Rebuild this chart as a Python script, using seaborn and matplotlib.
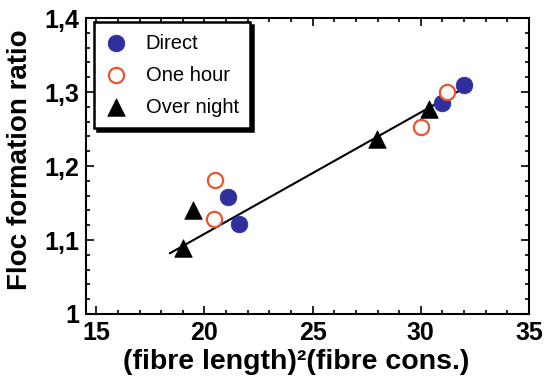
"""Floc formation ratio vs (fibre length)^2 (fibre cons.)."""

import numpy as np
import pandas as pd
import matplotlib

matplotlib.use("Agg")
import matplotlib.pyplot as plt
from matplotlib.ticker import MultipleLocator, FuncFormatter
import seaborn as sns

# data
direct_x = [21.07, 21.58, 30.98, 32.0]
direct_y = [1.158, 1.122, 1.285, 1.309]
hour_x = [20.5, 20.42, 30.0, 31.2]
hour_y = [1.181, 1.129, 1.253, 1.300]
night_x = [19.45, 19.0, 27.98, 30.4]
night_y = [1.140, 1.089, 1.237, 1.277]
fit_x = [18.4, 32.1]
fit_y = [1.082, 1.307]

sns.set_style("ticks")
plt.rcParams["font.family"] = ["Liberation Sans", "DejaVu Sans"]
plt.rcParams["text.color"] = "black"
plt.rcParams["axes.labelcolor"] = "black"
plt.rcParams["xtick.color"] = "black"
plt.rcParams["ytick.color"] = "black"

fig = plt.figure(figsize=(5.44, 3.92), dpi=100)
ax = fig.add_axes([0.159, 0.199, 0.8134, 0.755])

fit = pd.DataFrame({"x": fit_x, "y": fit_y})
sns.lineplot(data=fit, x="x", y="y", color="black", linewidth=1.5, ax=ax,
             legend=False)

sns.scatterplot(x=direct_x, y=direct_y, marker="o", s=145, color="#2f2f9e",
                edgecolor="#2f2f9e", linewidth=0.5, label="Direct", ax=ax, zorder=3)
sns.scatterplot(x=hour_x, y=hour_y, marker="o", s=120, facecolor="white",
                edgecolor="#e8552e", linewidth=1.6, label="One hour", ax=ax, zorder=3)
sns.scatterplot(x=night_x, y=night_y, marker="^", s=160, color="black",
                edgecolor="black", linewidth=0.5, label="Over night", ax=ax, zorder=4)

ax.set_xlim(14.55, 35)
ax.set_ylim(1.0, 1.4)
ax.xaxis.set_major_locator(MultipleLocator(5))
ax.xaxis.set_minor_locator(MultipleLocator(1))
ax.yaxis.set_major_locator(MultipleLocator(0.1))
ax.yaxis.set_minor_locator(MultipleLocator(0.02))
ax.yaxis.set_major_formatter(FuncFormatter(lambda v, p: f"{v:.1f}".rstrip("0").rstrip(".").replace(".", ",")))

ax.tick_params(which="both", direction="in", top=True, right=True, width=1.2)
ax.tick_params(which="major", length=6, labelsize=18, pad=5)
ax.tick_params(which="minor", length=3)
for lab in ax.get_xticklabels() + ax.get_yticklabels():
    lab.set_fontweight("bold")
for sp in ax.spines.values():
    sp.set_linewidth(1.5)
    sp.set_color("black")

ax.set_xlabel("(fibre length)²(fibre cons.)", fontsize=20.5, fontweight="bold")
ax.set_ylabel("Floc formation ratio", fontsize=20, fontweight="bold")
ax.xaxis.set_label_coords(0.475, -0.118)
ax.yaxis.set_label_coords(-0.12, 0.52)

leg = ax.legend(loc="upper left", bbox_to_anchor=(0.018, 0.985), fontsize=14.5,
                frameon=True, fancybox=False, edgecolor="black", framealpha=1,
                borderpad=0.55, labelspacing=0.65, handletextpad=1.0,
                handlelength=1.0, borderaxespad=0.0,
                shadow={"color": "black", "alpha": 1, "shade": 1})
leg.get_frame().set_linewidth(1.8)

fig.savefig("out.png", dpi=100)
plt.close(fig)
